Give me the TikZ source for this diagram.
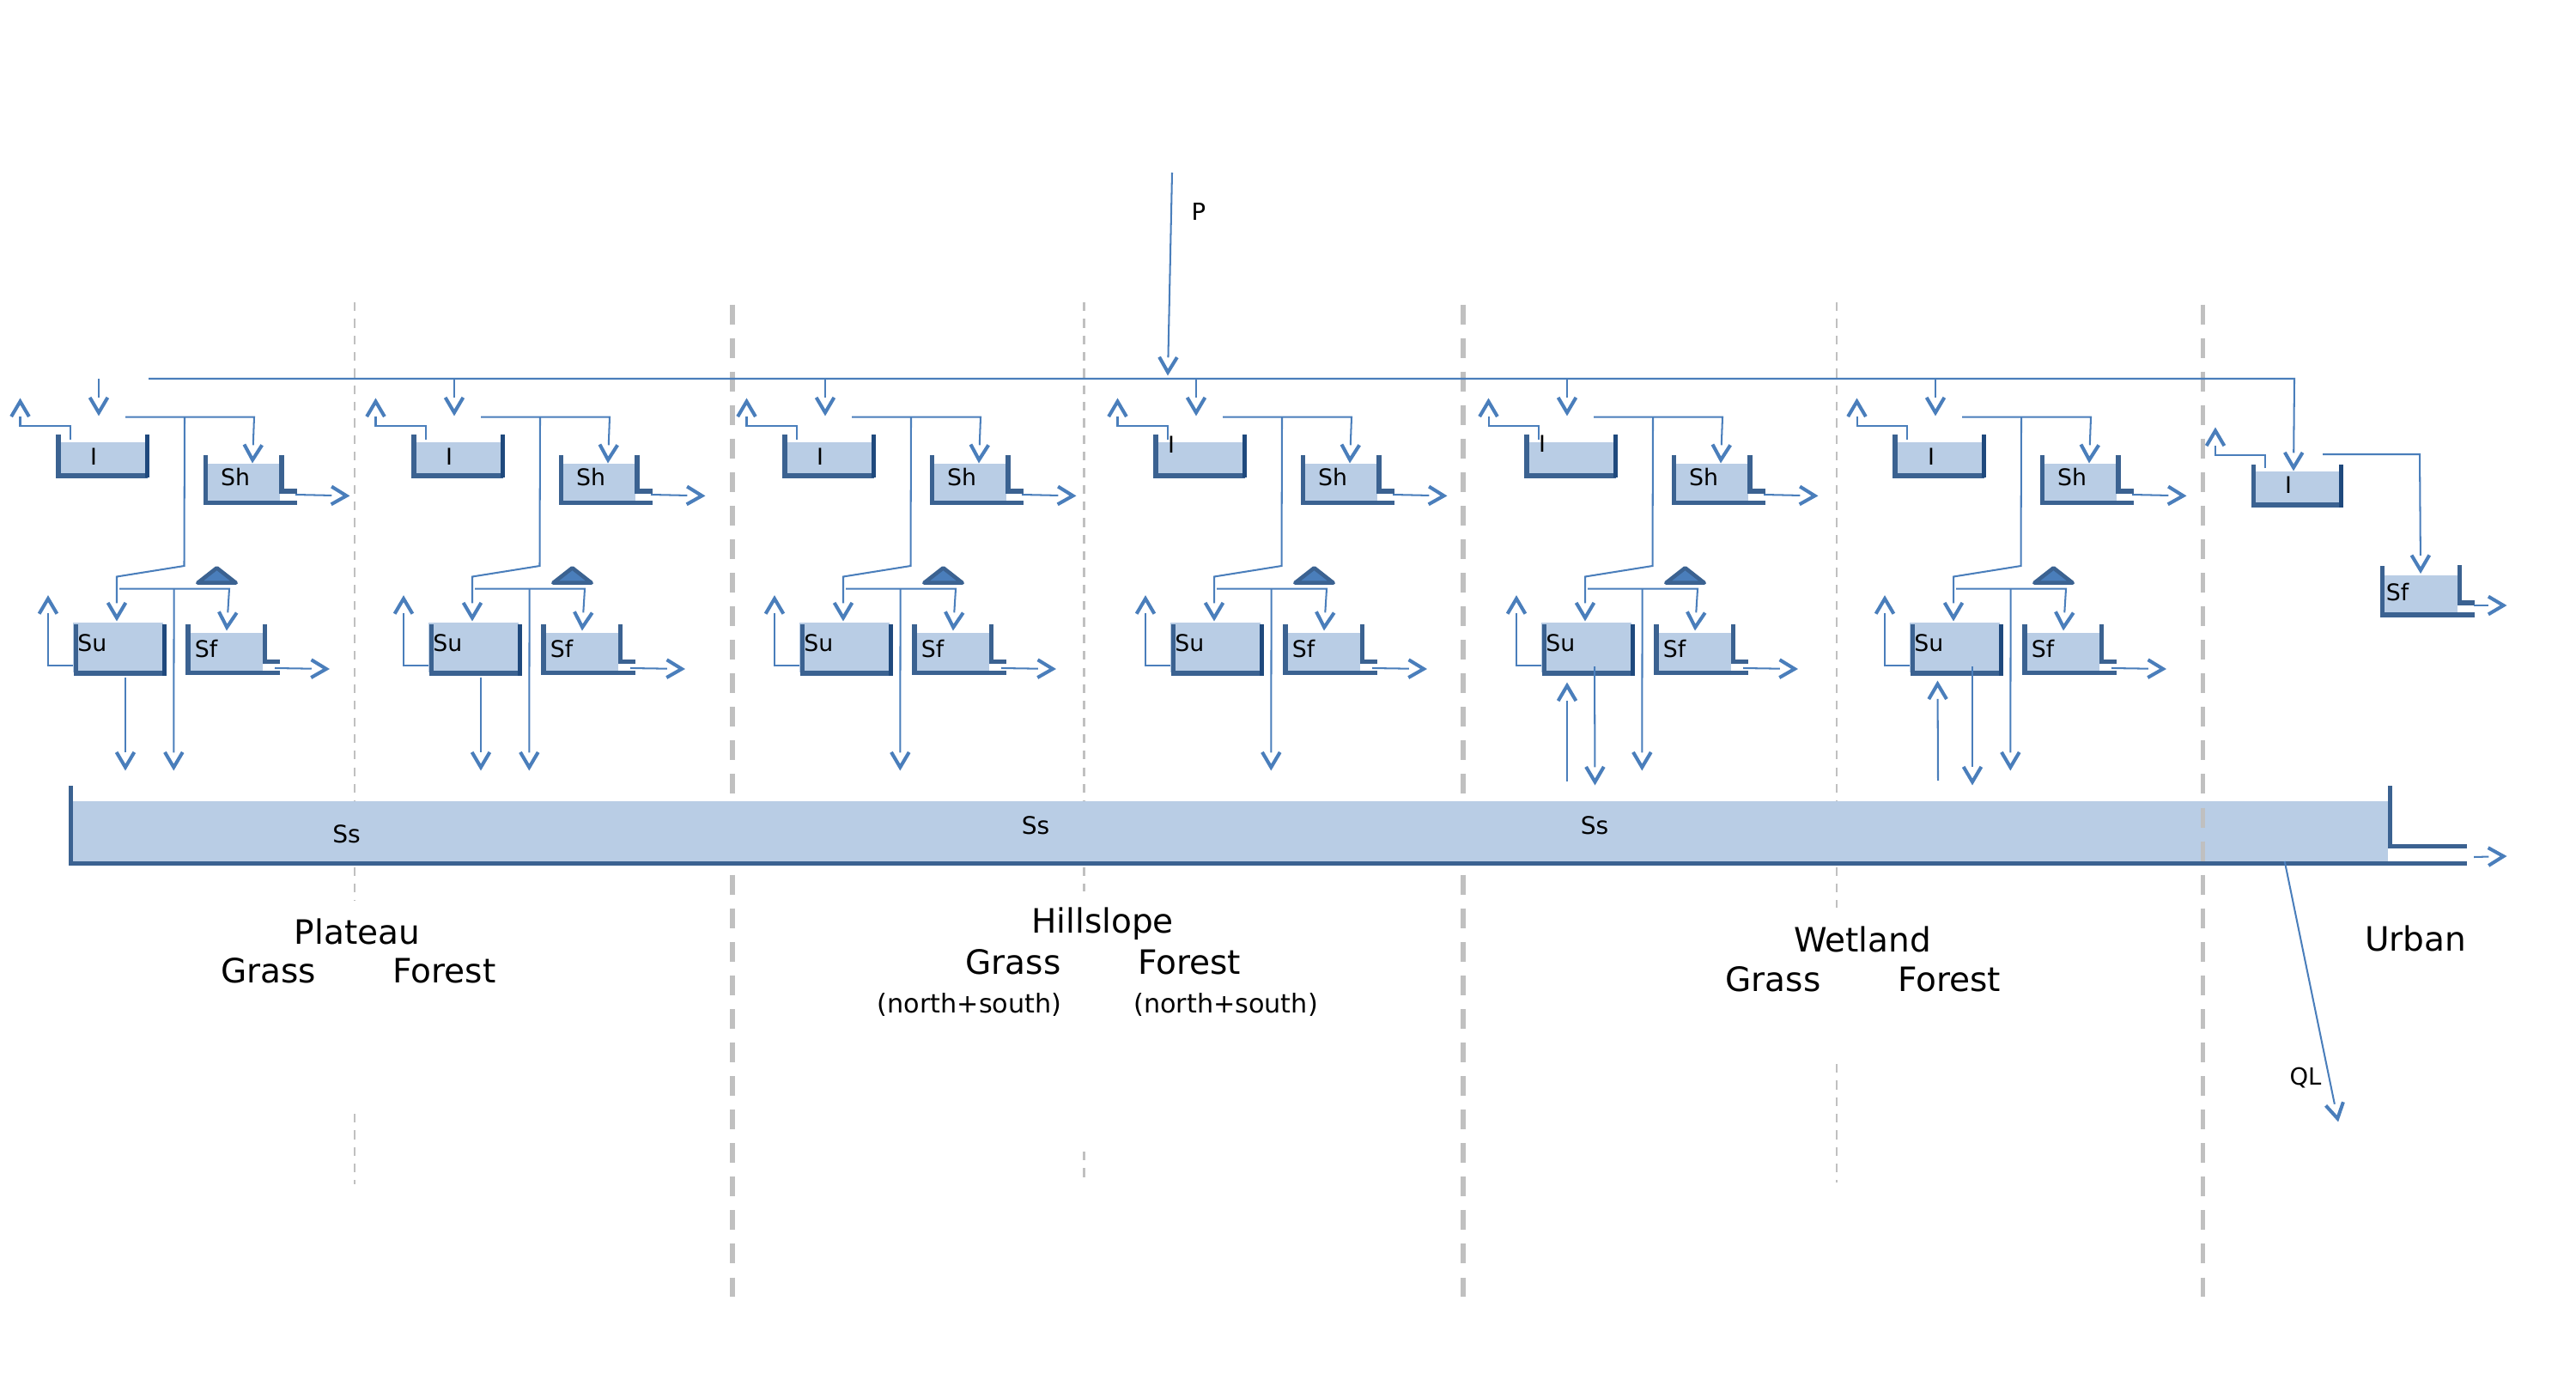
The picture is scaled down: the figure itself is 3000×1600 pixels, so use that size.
\documentclass[tikz,border=0pt]{standalone}
\usepackage{fontspec}
\setmainfont{DejaVu Sans}
\usetikzlibrary{arrows.meta}
\definecolor{flowblue}{HTML}{4A7EBB}
\definecolor{waterblue}{HTML}{B9CDE5}
\definecolor{wallblue}{HTML}{3B6291}
\definecolor{walldark}{HTML}{1F497D}
\definecolor{divgray}{HTML}{C0C0C0}
% open V head: the shaft stops at the base of the V
\pgfdeclarearrow{
  name=VHead,
  setup code={
    \pgfarrowssettipend{0pt}
    \pgfarrowssetbackend{-6pt}
    \pgfarrowssetvisualbackend{-6pt}
    \pgfarrowssetlineend{-5.9pt}
    \pgfarrowssetvisualtipend{0pt}
    \pgfarrowshullpoint{0pt}{0pt}
    \pgfarrowshullpoint{-6pt}{3pt}
    \pgfarrowshullpoint{-6pt}{-3pt}
  },
  drawing code={
    \pgfsetdash{}{0pt}
    \pgfsetlinewidth{1.15pt}
    \pgfsetmiterjoin
    \pgfsetbuttcap
    \pgfpathmoveto{\pgfqpoint{-6pt}{2.95pt}}
    \pgfpathlineto{\pgfqpoint{-1pt}{0pt}}
    \pgfpathlineto{\pgfqpoint{-6pt}{-2.95pt}}
    \pgfusepathqstroke
  },
}
\tikzset{
  x=0.01cm, y=-0.01cm,
  flow/.style={draw=flowblue, line width=0.58pt, -{VHead}},
  water/.style={fill=waterblue, draw=none},
  wall/.style={draw=wallblue, line width=1.5pt, miter limit=10},
  walld/.style={draw=walldark, line width=1.5pt},
  label/.style={inner sep=0pt, anchor=base, font=\fontsize{7.6pt}{9pt}\selectfont},
  big/.style={inner sep=0pt, anchor=base, font=\fontsize{11.1pt}{13pt}\selectfont},
  mid/.style={inner sep=0pt, anchor=base, font=\fontsize{8.6pt}{10pt}\selectfont},
  thindash/.style={draw=divgray, line width=0.75pt, dash pattern=on 2.9pt off 2.6pt},
  thickdash/.style={draw=divgray, line width=1.6pt, dash pattern=on 6.54pt off 4.57pt},
  pics/cell/.style 2 args={code={
    % interception store
    \fill[water] (70,515) rectangle (170,553);
    \draw[wall] (68,506) -- (68,554) -- (171.5,554);
    \draw[walld] (171.5,506) -- (171.5,556);
    \node[label] (-I) at (#1,#2) {I};
    % Sh store
    \fill[water] (242,540) rectangle (325.5,584);
    \draw[wall] (239.5,529.5) -- (239.5,585.5) -- (345.6,585.5);
    \draw[wall] (328,529.5) -- (328,572) -- (345.6,572);
    \node[label] (-Sh) at (274,565.5) {Sh};
    % Su store
    \fill[water] (85,725) rectangle (189.5,783);
    \draw[wall] (88.5,727) -- (88.5,784) -- (191.7,784);
    \draw[walld] (191.7,727) -- (191.7,786.5);
    \node[label] (-Su) at (107.3,758) {Su};
    % Sf store
    \fill[water] (221,737) rectangle (306,781.5);
    \draw[wall] (219,727) -- (219,783.5) -- (326,783.5);
    \draw[wall] (308.5,727) -- (308.5,770.5) -- (326,770.5);
    \node[label] (-Sf) at (240,765) {Sf};
    % triangle
    \draw[draw=wallblue, fill=flowblue, line width=1.3pt, line join=round]
      (252.5,661.3) -- (274.7,678.7) -- (230.3,678.7) -- cycle;
    % connectors
    \coordinate (-in0) at (115,441);
    \coordinate (-in1) at (115,484);
    \draw[flow] (-in0) -- (-in1);
    \coordinate (-ev0) at (82,512);
    \coordinate (-ev1) at (82,496);
    \coordinate (-ev2) at (23.5,496);
    \coordinate (-ev3) at (23.5,464);
    \draw[flow] (-ev0) -- (-ev1) -- (-ev2) -- (-ev3);
    \coordinate (-sp0) at (146,485.6);
    \coordinate (-spA) at (215,485.6);
    \coordinate (-spS) at (296,485.6);
    \coordinate (-shT) at (294,539);
    \draw[flow] (-sp0) -- (-spS) -- (-shT);
    \coordinate (-k1) at (214.5,659);
    \coordinate (-k2) at (136,671.5);
    \coordinate (-suT) at (136,723);
    \draw[flow] (-spA) -- (-k1) -- (-k2) -- (-suT);
    \coordinate (-tr0) at (139,685.7);
    \coordinate (-trB) at (202.6,685.7);
    \coordinate (-tr1) at (267,685.7);
    \coordinate (-sfT) at (264,734);
    \draw[flow] (-tr0) -- (-tr1) -- (-sfT);
    \coordinate (-byp) at (202.3,897);
    \draw[flow] (-trB) -- (-byp);
    \coordinate (-suL) at (85,775);
    \coordinate (-suE) at (56,775);
    \coordinate (-suU) at (56,693.6);
    \draw[flow] (-suL) -- (-suE) -- (-suU);
    \coordinate (-shO) at (344,576);
    \coordinate (-shX) at (407,577.4);
    \draw[flow] (-shO) -- (-shX);
    \coordinate (-sfO) at (320,778);
    \coordinate (-sfX) at (383.5,779);
    \draw[flow] (-sfO) -- (-sfX);
  }},
}
\begin{document}
\begin{tikzpicture}
\useasboundingbox (0,0) rectangle (3000,1600);
% zone dividers behind the Ss store
\coordinate (d1a) at (852.7,354.5);  \coordinate (d1b) at (852.7,1510);
\coordinate (d2a) at (1704,354.5);   \coordinate (d2b) at (1704,1510);
\coordinate (d3a) at (2565.5,354.5); \coordinate (d3b) at (2565.5,1510);
\draw[thickdash] (d1a) -- (d1b);
\draw[thickdash] (d2a) -- (d2b);
\coordinate (t1a) at (413,352);    \coordinate (t1b) at (413,1049);
\coordinate (t1c) at (413,1297);   \coordinate (t1d) at (413,1379);
\coordinate (t2a) at (1262.5,352); \coordinate (t2b) at (1262.5,1038);
\coordinate (t2c) at (1262.5,1341);\coordinate (t2d) at (1262.5,1379);
\coordinate (t3a) at (2139,352);   \coordinate (t3b) at (2139,1057);
\coordinate (t3c) at (2139,1239);  \coordinate (t3d) at (2139,1377);
\foreach \a/\b in {t1a/t1b,t1c/t1d,t2a/t2b,t2c/t2d,t3a/t3b,t3c/t3d}
  \draw[thindash] (\a) -- (\b);
% Ss store
\fill[water] (85,933) rectangle (2781,1004);
\draw[thickdash] (d3a) -- (d3b);
\draw[wall, line width=1.6pt] (82.5,915) -- (82.5,1005.5) -- (2873,1005.5);
\draw[wall, line width=1.6pt] (2783.5,915) -- (2783.5,985.5) -- (2873,985.5);
\node[label, font=\fontsize{8pt}{9pt}\selectfont] (ss1) at (403.6,981.5) {Ss};
\node[label, font=\fontsize{8pt}{9pt}\selectfont] (ss2) at (1206,971) {Ss};
\node[label, font=\fontsize{8pt}{9pt}\selectfont] (ss3) at (1857,971) {Ss};
% six response units
\pic (m1) at (0,0)    {cell={109}{541.8}};
\pic (m2) at (414,0)  {cell={109}{541.8}};
\pic (m3) at (846,0)  {cell={109}{541.8}};
\pic (m4) at (1278,0) {cell={86}{527}};
\pic (m5) at (1710,0) {cell={86}{526}};
\pic (m6) at (2139,0) {cell={110}{541.8}};
% unit-specific percolation and capillary arrows
\coordinate (p1a) at (146,789);  \coordinate (p1b) at (146,897);
\coordinate (p2a) at (560,789);  \coordinate (p2b) at (560,897);
\draw[flow] (p1a) -- (p1b);
\draw[flow] (p2a) -- (p2b);
\coordinate (p5a) at (1857,776); \coordinate (p5b) at (1857.5,914);
\coordinate (c5a) at (1825,909.5); \coordinate (c5b) at (1825,795);
\coordinate (p6a) at (2297,776); \coordinate (p6b) at (2297,914);
\coordinate (c6a) at (2257,909); \coordinate (c6b) at (2256.5,793);
\draw[flow] (p5a) -- (p5b);
\draw[flow] (c5a) -- (c5b);
\draw[flow] (p6a) -- (p6b);
\draw[flow] (c6a) -- (c6b);
% urban unit
\fill[water] (2627,549) rectangle (2724,586);
\draw[wall] (2624.5,541) -- (2624.5,588) -- (2726.5,588);
\draw[walld] (2726.5,541) -- (2726.5,590.5);
\node[label] (uI) at (2665,574) {I};
\fill[water] (2777,670) rectangle (2862,714);
\draw[wall] (2774.5,659) -- (2774.5,716) -- (2882,716);
\draw[wall] (2864.5,658) -- (2864.5,702) -- (2882,702);
\node[label] (uSf) at (2792,699) {Sf};
% rain and its distribution line
\coordinate (P0) at (1365,201);  \coordinate (P1) at (1360,437);
\draw[flow] (P0) -- (P1);
\node[label, font=\fontsize{7.8pt}{9pt}\selectfont] (Plab) at (1396,256.5) {P};
\coordinate (h0) at (173,441);  \coordinate (h1) at (2672,441); \coordinate (uIt) at (2671,548);
\draw[flow] (h0) -- (h1) -- (uIt);
\coordinate (ue0) at (2638,545); \coordinate (ue1) at (2638,530);
\coordinate (ue2) at (2580,530); \coordinate (ue3) at (2580,498);
\draw[flow] (ue0) -- (ue1) -- (ue2) -- (ue3);
\coordinate (us0) at (2705,529); \coordinate (us1) at (2818,529); \coordinate (us2) at (2819,667.6);
\draw[flow] (us0) -- (us1) -- (us2);
\coordinate (uo0) at (2881,705); \coordinate (uo1) at (2919,705);
\draw[flow] (uo0) -- (uo1);
\coordinate (so0) at (2881,998); \coordinate (so1) at (2919,997);
\draw[flow] (so0) -- (so1);
\coordinate (ql0) at (2660.7,1003); \coordinate (ql1) at (2723,1306);
\draw[flow] (ql0) -- (ql1);
\node[label, font=\fontsize{7.8pt}{9pt}\selectfont] (QL) at (2685,1263.5) {QL};
% zone names
\node[big] (plateau) at (416,1099) {Plateau};
\node[big] (g1) at (312.7,1144.6) {Grass};
\node[big] (f1) at (517.6,1144.6) {Forest};
\node[big] (hill) at (1284,1086.7) {Hillslope};
\node[big] (g2) at (1180,1134) {Grass};
\node[big] (f2) at (1385,1134) {Forest};
\node[mid] (ns1) at (1129,1179.5) {(north+south)};
\node[mid] (ns2) at (1427.5,1179.5) {(north+south)};
\node[big] (wet) at (2169,1108) {Wetland};
\node[big] (g3) at (2065,1154.6) {Grass};
\node[big] (f3) at (2270,1154.6) {Forest};
\node[big] (urban) at (2813,1107.4) {Urban};
\end{tikzpicture}
\end{document}
